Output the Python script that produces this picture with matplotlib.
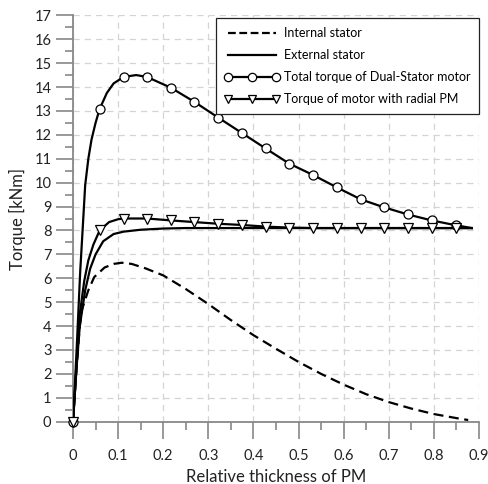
import matplotlib.pyplot as plt
from matplotlib.ticker import MultipleLocator

# relative PM thickness / torque [kNm]
x_int = [0, 0.008, 0.015, 0.02, 0.034, 0.047, 0.07, 0.09, 0.108, 0.13, 0.16, 0.2,
         0.25, 0.3, 0.35, 0.4, 0.45, 0.5, 0.55, 0.6, 0.65, 0.7, 0.75, 0.8, 0.85, 0.876]
t_int = [0, 2.3, 4.0, 4.7, 5.5, 6.05, 6.45, 6.6, 6.65, 6.6, 6.42, 6.12,
         5.55, 4.92, 4.25, 3.62, 3.05, 2.5, 2.0, 1.55, 1.15, 0.82, 0.55, 0.32, 0.15, 0.07]

x_ext = [0, 0.008, 0.015, 0.027, 0.038, 0.05, 0.067, 0.09, 0.112, 0.15, 0.2, 0.25,
         0.3, 0.4, 0.5, 0.6, 0.7, 0.8, 0.884]
t_ext = [0, 2.3, 4.0, 5.5, 6.4, 7.0, 7.55, 7.85, 7.95, 8.03, 8.08, 8.1,
         8.1, 8.1, 8.1, 8.1, 8.1, 8.1, 8.1]

x_tot = [0, 0.008, 0.016, 0.02, 0.027, 0.034, 0.041, 0.05, 0.059, 0.075, 0.09, 0.112,
         0.14, 0.164, 0.217, 0.269, 0.322, 0.374, 0.427, 0.479, 0.532, 0.585, 0.638,
         0.689, 0.742, 0.795, 0.848, 0.884]
t_tot = [0, 3.0, 6.3, 7.6, 9.9, 11.0, 11.8, 12.5, 13.08, 13.75, 14.15, 14.42,
         14.5, 14.42, 13.97, 13.38, 12.72, 12.08, 11.43, 10.8, 10.32, 9.8, 9.3,
         8.97, 8.67, 8.42, 8.22, 8.1]

x_rad = [0, 0.008, 0.015, 0.025, 0.034, 0.045, 0.059, 0.08, 0.1, 0.112, 0.164, 0.217,
         0.269, 0.322, 0.374, 0.427, 0.479, 0.532, 0.585, 0.638, 0.689, 0.742, 0.795,
         0.848, 0.884]
t_rad = [0, 2.4, 4.5, 5.9, 6.75, 7.4, 8.0, 8.35, 8.47, 8.5, 8.5, 8.42,
         8.35, 8.28, 8.23, 8.16, 8.12, 8.1, 8.1, 8.1, 8.1, 8.1, 8.1,
         8.1, 8.1]

# marker positions
x_mk = [0, 0.059, 0.112, 0.164, 0.217, 0.269, 0.322, 0.374, 0.427, 0.479, 0.532,
        0.585, 0.638, 0.689, 0.742, 0.795, 0.848]
tot_mk = [0, 13.08, 14.42, 14.42, 13.97, 13.38, 12.72, 12.08, 11.43, 10.8, 10.32,
          9.8, 9.3, 8.97, 8.67, 8.42, 8.22]
rad_mk = [0, 8.0, 8.5, 8.5, 8.42, 8.35, 8.28, 8.23, 8.16, 8.12, 8.1,
          8.1, 8.1, 8.1, 8.1, 8.1, 8.1]

plt.rcParams['font.family'] = ['Lato', 'DejaVu Sans']

fig = plt.figure(figsize=(4.89, 4.84), dpi=100)
ax = fig.add_axes([0.1493, 0.1287, 0.8303, 0.8397])

lw = 1.6
dash = (0, (4.5, 2.5))
ax.plot(x_int, t_int, color='black', lw=lw, ls=dash, zorder=3)
ax.plot(x_ext, t_ext, color='black', lw=lw, zorder=3)
ax.plot(x_tot, t_tot, color='black', lw=lw, zorder=3)
ax.plot(x_rad, t_rad, color='black', lw=lw, zorder=3)
ax.plot(x_mk, tot_mk, ls='none', marker='o', ms=6.5, mfc='white', mec='black',
        mew=0.9, zorder=4, clip_on=False)
ax.plot(x_mk, rad_mk, ls='none', marker='v', ms=7, mfc='white', mec='black',
        mew=0.9, zorder=4, clip_on=False)

# legend handles
h1, = ax.plot([], [], color='black', lw=lw, ls=(0, (3.5, 1.6)), label='Internal stator')
h2, = ax.plot([], [], color='black', lw=lw, label='External stator')
h3, = ax.plot([], [], color='black', lw=lw, marker='o', ms=6, mfc='white', mec='black',
              mew=0.9, label='Total torque of Dual-Stator motor')
h4, = ax.plot([], [], color='black', lw=lw, marker='v', ms=6, mfc='white', mec='black',
              mew=0.9, label='Torque of motor with radial PM')
leg = ax.legend(handles=[h1, h2, h3, h4], loc='upper right',
                bbox_to_anchor=(0.9796, 0.962), bbox_transform=fig.transFigure,
                borderaxespad=0, numpoints=3, handlelength=4.4, handletextpad=0.35,
                fontsize=9, fancybox=False, framealpha=1, borderpad=0.7,
                labelspacing=0.8)
leg.get_frame().set_edgecolor('#222222')
leg.get_frame().set_linewidth(0.9)
leg.set_zorder(5)

ax.set_xlim(0, 0.9)
ax.set_ylim(0, 17)
ax.xaxis.set_minor_locator(MultipleLocator(0.05))
ax.yaxis.set_major_locator(MultipleLocator(1))
ax.yaxis.set_minor_locator(MultipleLocator(0.5))
ax.set_xticks([i / 10 for i in range(10)])
ax.set_xticklabels(['0'] + ['%.1f' % (i / 10) for i in range(1, 10)])

ax.grid(True, which='major', color='#d4d4d4', ls=(0, (5, 4)), lw=0.9, zorder=0)
for s in ['top', 'right']:
    ax.spines[s].set_visible(False)
for s in ['left', 'bottom']:
    ax.spines[s].set_color('#888888')
    ax.spines[s].set_linewidth(1.3)
ax.tick_params(which='major', length=12, width=1.2, color='#888888', labelsize=10.5,
               labelcolor='#222222', direction='out')
ax.tick_params(which='minor', length=6, width=1.2, color='#888888', direction='out')
ax.tick_params(axis='x', pad=8)

ax.set_xlabel('Relative thickness of PM', fontsize=12, color='#222222', labelpad=4)
ax.set_ylabel('Torque [kNm]', fontsize=12, color='#222222', labelpad=6)

fig.savefig('out.png', dpi=100)
